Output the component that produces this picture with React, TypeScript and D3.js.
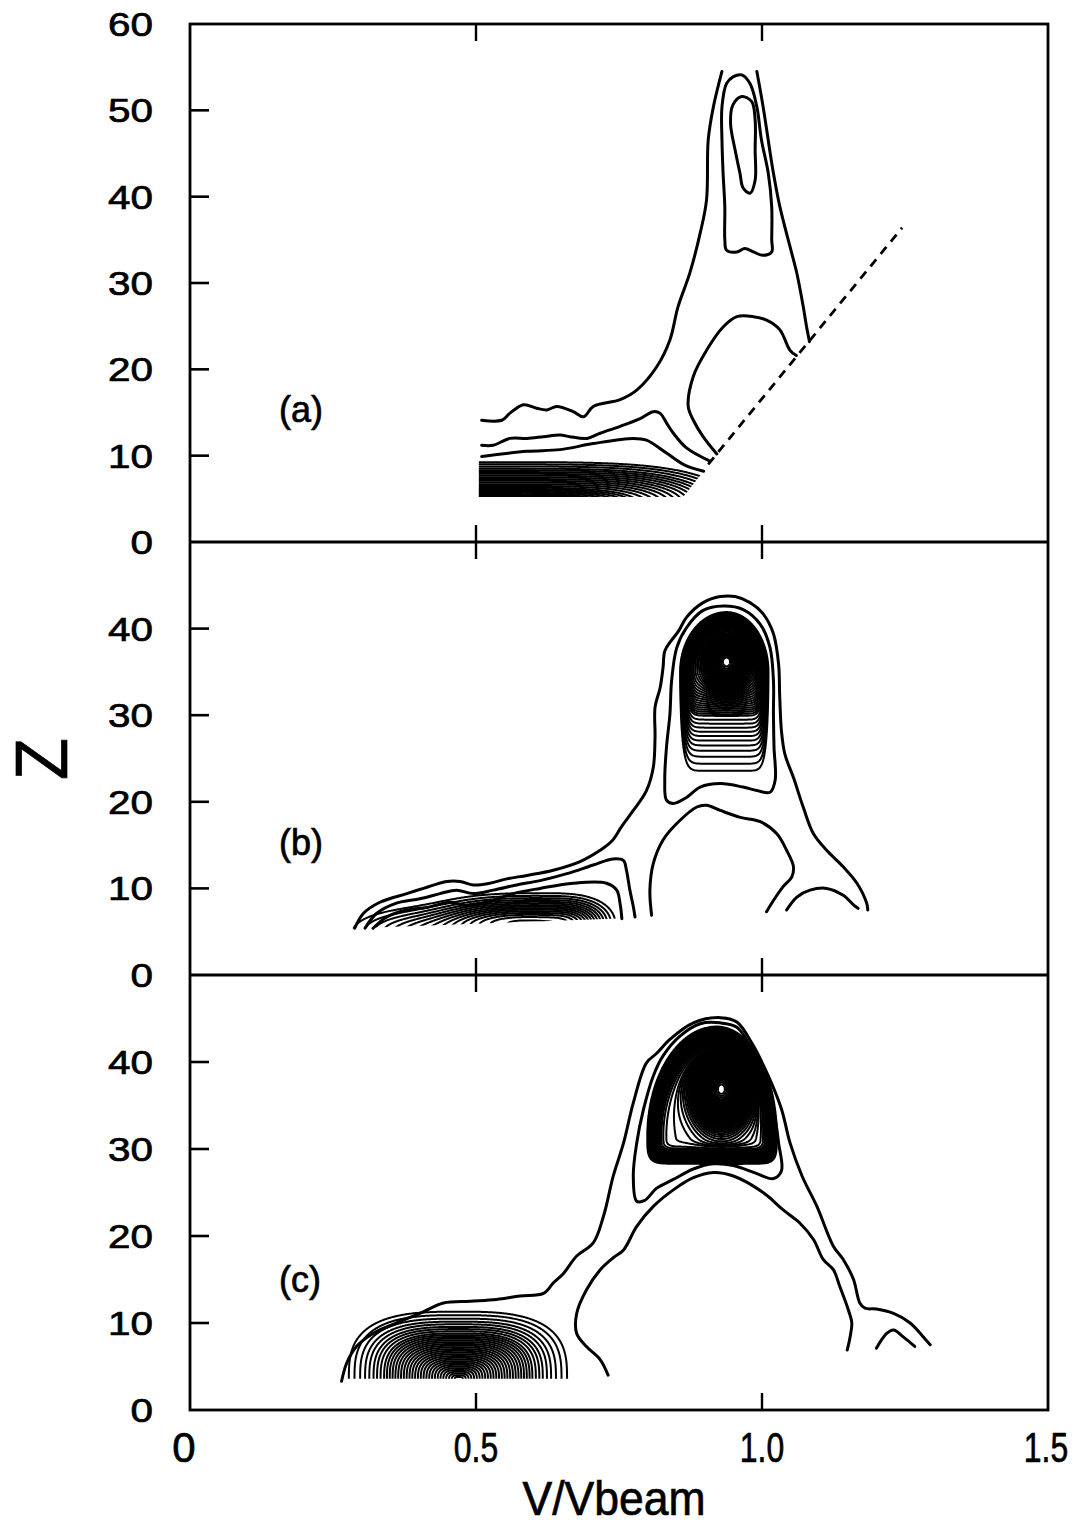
import React, { useMemo } from "react";
import * as d3 from "d3";

type Pt = [number, number];
type Blob = { kind: "sep" | "cap"; cx: number; cz: number; sxl: number; sxr: number; szd: number; szu: number; p: number; q: number; amp: number };

// ---------------- axes / text data ----------------
const xTickValues = [0, 0.5, 1.0, 1.5];
const xTickLabels = ["0", "0.5", "1.0", "1.5"];
const innerXTicks = [0.5, 1.0];
const zTicksA = [0, 10, 20, 30, 40, 50, 60];
const zTicksB = [0, 10, 20, 30, 40];
const zTicksC = [0, 10, 20, 30, 40];
const panelTags = ["(a)", "(b)", "(c)"];
const xTitle = "V/Vbeam";
const zTitle = "Z";

// ---------------- panel (a) ----------------
const aOuterLeft: Pt[] = [[0.510,14.1],[0.545,14.1],[0.559,14.9],[0.583,15.9],[0.606,15.5],[0.624,15.3],[0.641,15.7],[0.670,15.1],[0.688,14.5],[0.705,15.7],[0.752,16.5],[0.781,17.6],[0.816,20.3],[0.839,23.4],[0.853,27.2],[0.874,31.2],[0.892,35.8],[0.903,39.6],[0.906,46.6],[0.915,50.4],[0.930,54.5]];
const aOuterRight: Pt[] = [[0.991,54.5],[1.002,50.4],[1.020,42.7],[1.031,38.9],[1.049,34.2],[1.061,31.1],[1.072,27.3],[1.078,24.9],[1.083,23.2]];
const aColumn: Pt[] = [[0.9645,54.1],[0.979,53.1],[0.991,50.4],[0.999,46.6],[1.011,42.7],[1.017,38.8],[1.017,35.0],[1.017,33.6],[1.002,33.2],[0.985,33.6],[0.970,34.0],[0.956,33.6],[0.938,33.8],[0.935,35.0],[0.935,38.8],[0.932,42.7],[0.930,46.6],[0.930,50.4],[0.938,53.1],[0.950,53.9]];
const aOval: Pt[] = [[0.9645,51.6],[0.982,51.0],[0.988,48.9],[0.988,45.4],[0.988,41.9],[0.979,40.4],[0.967,41.0],[0.9615,42.7],[0.953,45.4],[0.945,48.5],[0.949,50.6]];
const aDome: Pt[] = [[1.060,21.6],[1.049,22.2],[1.031,24.6],[1.008,25.7],[0.985,26.1],[0.956,26.1],[0.932,24.9],[0.903,22.2],[0.880,19.2],[0.871,15.7],[0.880,14.1],[0.897,12.2],[0.921,10.2]];
const aLevel5: Pt[] = [[0.510,11.2],[0.530,11.2],[0.559,12.0],[0.589,12.0],[0.618,12.2],[0.647,12.4],[0.664,12.2],[0.694,12.0],[0.717,12.6],[0.752,13.4],[0.787,14.3],[0.810,15.1],[0.822,14.9],[0.833,13.8],[0.845,12.6],[0.868,10.9],[0.908,9.4]];
const aLevel6: Pt[] = [[0.510,9.9],[0.589,10.5],[0.647,10.7],[0.705,11.4],[0.775,12.0],[0.798,11.8],[0.833,10.3],[0.865,8.9],[0.898,8.2]];
const aDashed: Pt[] = [[0.906,9.0],[1.245,36.4]];
const aRegion: Pt[] = [[0.505,5.2],[0.862,5.2],[1.3,41.5],[1.3,60],[0.505,60]];
const aBandBlobs: Blob[] = [{ kind: "sep", cx: 0.52, cz: 4.5, sxl: 0.4, sxr: 0.317, szd: 3, szu: 2.6, p: 4, q: 2, amp: 1 }];
const aBandLevelZ = [9.25, 9.0, 8.75, 8.5, 8.3, 8.1, 7.9, 7.7, 7.5, 7.3, 7.1, 6.9, 6.7, 6.5, 6.3, 6.15, 6.0, 5.85, 5.7, 5.55, 5.42, 5.3];

// ---------------- panel (b) ----------------
const bOuter: Pt[] = [[0.288,5.4],[0.303,7.1],[0.332,8.4],[0.379,9.4],[0.408,10.0],[0.449,10.8],[0.472,10.8],[0.495,10.4],[0.524,10.6],[0.554,11.1],[0.589,11.5],[0.635,12.1],[0.682,13.1],[0.717,14.4],[0.738,15.5],[0.755,17.2],[0.775,19.0],[0.798,21.3],[0.810,24.0],[0.813,27.5],[0.813,30.9],[0.822,33.2],[0.827,35.5],[0.830,37.4],[0.839,38.4],[0.854,39.7],[0.868,41.3],[0.897,43.0],[0.927,43.7],[0.953,43.7],[0.979,43.0],[1.002,41.7],[1.020,39.4],[1.029,35.9],[1.031,32.1],[1.034,28.2],[1.040,25.5],[1.055,22.8],[1.072,19.4],[1.090,16.3],[1.113,14.4],[1.142,12.5],[1.166,10.6],[1.183,8.3],[1.185,7.5]];
const bLoop2: Pt[] = [[0.833,20.2],[0.830,22.5],[0.833,26.3],[0.839,30.1],[0.842,34.0],[0.851,37.8],[0.868,40.1],[0.897,42.1],[0.932,42.6],[0.967,42.2],[0.997,40.5],[1.014,37.8],[1.020,34.0],[1.020,30.1],[1.021,26.3],[1.023,22.5],[1.014,21.1],[0.991,21.3],[0.967,21.7],[0.927,22.1],[0.892,21.7],[0.868,20.5],[0.845,19.8]];
const bLobe2: Pt[] = [[0.306,5.4],[0.326,7.1],[0.361,8.3],[0.402,8.8],[0.437,9.4],[0.466,9.8],[0.495,9.4],[0.530,9.8],[0.571,10.4],[0.612,10.9],[0.659,11.7],[0.705,12.7],[0.740,13.4],[0.758,13.2],[0.763,12.1],[0.769,9.8],[0.775,7.9],[0.778,6.7]];
const bLobe3: Pt[] = [[0.320,5.4],[0.344,6.7],[0.379,7.5],[0.414,7.8],[0.455,8.4],[0.484,8.0],[0.519,8.4],[0.565,9.4],[0.612,10.0],[0.670,10.6],[0.728,10.6],[0.746,9.8],[0.752,8.2],[0.755,6.5]];
const bDome: Pt[] = [[0.807,6.9],[0.804,9.8],[0.810,12.9],[0.827,15.6],[0.851,17.5],[0.886,19.4],[0.903,19.6],[0.927,19.0],[0.962,18.2],[0.997,17.7],[1.026,16.3],[1.043,14.4],[1.055,12.5],[1.052,11.3],[1.037,10.2],[1.020,8.6],[1.008,7.3]];
const bArch: Pt[] = [[1.043,7.5],[1.061,9.0],[1.084,9.8],[1.113,10.0],[1.142,9.2],[1.160,8.1],[1.168,7.7]];
const bRegion: Pt[] = [[0.1,4.95],[1.3,7.85],[1.3,50],[0.1,50]];
const bLobeBlobs: Blob[] = [
  { kind: "sep", cx: 0.62, cz: 6.0, sxl: 0.13, sxr: 0.08, szd: 3, szu: 1.8, p: 3, q: 2, amp: 1 },
  { kind: "sep", cx: 0.40, cz: 5.0, sxl: 0.08, sxr: 0.08, szd: 1.5, szu: 1.8, p: 2, q: 2, amp: 0.45 },
];
const bLobeLevels = [0.16, 0.22, 0.28, 0.34, 0.40, 0.46, 0.52, 0.58, 0.64, 0.70, 0.76, 0.82, 0.88, 0.94, 1.0];
const bPeakBlobs: Blob[] = [
  { kind: "cap", cx: 0.938, cz: 35.0, sxl: 0.072, sxr: 0.065, szd: 5.6, szu: 6.13, p: 12, q: 2, amp: 0.6 },
  { kind: "sep", cx: 0.938, cz: 36.2, sxl: 0.022, sxr: 0.022, szd: 2.0, szu: 1.6, p: 2, q: 2, amp: 0.5 },
];
const bPeakLevels = [0.075,0.10,0.13,0.16,0.19,0.22,0.25,0.28,0.31,0.34,0.37,0.40,0.415,0.43,0.445,0.46,0.475,0.49,0.505,0.52,0.535,0.55,0.565,0.58,0.595,0.61,0.625,0.64,0.655,0.67,0.685,0.70,0.715,0.73,0.745,0.76,0.775,0.79,0.805,0.82,0.835,0.85,0.865,0.88,0.895,0.91,0.925,0.94,0.955,0.97,0.985,1.0,1.02,1.04,1.06,1.08];

// ---------------- panel (c) ----------------
const cOuter: Pt[] = [[0.265,3.3],[0.274,5.4],[0.291,7.3],[0.320,8.8],[0.361,10.0],[0.402,11.1],[0.443,12.3],[0.490,12.5],[0.536,12.7],[0.577,13.1],[0.618,13.4],[0.635,14.6],[0.653,15.7],[0.676,17.7],[0.705,19.2],[0.723,22.3],[0.740,26.9],[0.758,30.7],[0.775,35.3],[0.798,39.9],[0.816,41.0],[0.839,42.6],[0.880,44.5],[0.927,45.1],[0.956,44.6],[0.982,42.2],[1.011,38.4],[1.034,34.6],[1.049,30.7],[1.070,26.9],[1.096,23.4],[1.125,18.8],[1.142,17.3],[1.160,15.0],[1.171,12.3],[1.180,11.7],[1.200,11.6],[1.230,11.1],[1.259,10.0],[1.282,8.4],[1.294,7.5]];
const cDome: Pt[] = [[0.731,4.0],[0.717,5.8],[0.693,7.3],[0.676,8.8],[0.676,11.1],[0.693,13.8],[0.717,16.1],[0.740,17.5],[0.758,18.4],[0.781,21.1],[0.810,23.4],[0.845,25.3],[0.880,26.7],[0.915,27.3],[0.950,26.9],[1.002,25.0],[1.037,23.0],[1.066,21.5],[1.090,19.6],[1.107,17.3],[1.125,16.1],[1.136,14.2],[1.151,11.5],[1.157,10.0],[1.154,8.4],[1.149,6.9]];
const cLoop3: Pt[] = [[0.781,24.0],[0.775,26.9],[0.781,30.7],[0.793,34.6],[0.810,38.4],[0.827,40.7],[0.857,43.0],[0.892,44.4],[0.927,44.5],[0.956,44.0],[0.976,42.2],[1.002,38.4],[1.020,34.6],[1.029,30.7],[1.034,27.5],[1.020,26.6],[0.990,27.2],[0.950,28.1],[0.915,28.3],[0.880,27.7],[0.845,26.5],[0.816,25.5],[0.795,24.1]];
const cArch: Pt[] = [[1.200,7.1],[1.218,8.8],[1.230,9.2],[1.247,8.4],[1.267,7.3]];
const cRegion: Pt[] = [[0.0,3.6],[1.5,3.6],[1.5,50],[0.0,50]];
const cLobeBlobs: Blob[] = [{ kind: "sep", cx: 0.47, cz: 3.5, sxl: 0.124, sxr: 0.122, szd: 5, szu: 5.03, p: 3, q: 3, amp: 1 }];
const cLobeLevelZ = [11.3, 10.9, 10.5, 10.15, 9.85, 9.55, 9.3, 9.05, 8.8, 8.6, 8.4, 8.2, 8.0, 7.8, 7.6, 7.4, 7.2, 7.0, 6.8, 6.6, 6.4, 6.2, 6.0, 5.8, 5.6, 5.4, 5.2, 5.0, 4.8, 4.6, 4.4, 4.2, 4.0, 3.8];
const cPeakBlobs: Blob[] = [
  { kind: "cap", cx: 0.92, cz: 31.5, sxl: 0.107, sxr: 0.094, szd: 2.24, szu: 11.1, p: 12, q: 4, amp: 0.6 },
  { kind: "sep", cx: 0.929, cz: 36.9, sxl: 0.03, sxr: 0.03, szd: 2.8, szu: 2.6, p: 2, q: 2, amp: 0.5 },
];
const cPeakLevels = [0.075,0.10,0.125,0.15,0.175,0.2,0.225,0.25,0.275,0.3,0.325,0.35,0.375,0.4,0.425,0.45,0.475,0.5,0.525,0.55,0.575,0.6,0.612,0.624,0.636,0.648,0.66,0.672,0.684,0.696,0.708,0.72,0.732,0.744,0.756,0.768,0.78,0.792,0.804,0.816,0.828,0.84,0.852,0.864,0.876,0.888,0.9,0.912,0.924,0.936,0.948,0.96,0.972,0.984,0.996,1.008,1.02,1.032,1.044,1.056,1.068,1.08,1.09];

// ---------------- layout ----------------
const W = 1077, H = 1527;
const LEFT = 190, RIGHT = 1048;
const PANEL_TOP = [24, 542, 975];
const PANEL_BOTTOM = [542, 975, 1410];
const PANEL_ZMAX = [60, 50, 50];
const FONT = "'Liberation Sans', Arial, Helvetica, sans-serif";

function fieldAt(blobs: Blob[], x: number, z: number) {
  let s = 0;
  for (const b of blobs) {
    const dx = x - b.cx, dz = z - b.cz;
    const ux = Math.abs(dx) / (dx < 0 ? b.sxl : b.sxr);
    const uz = Math.abs(dz) / (dz < 0 ? b.szd : b.szu);
    let U: number;
    if (b.kind === "cap" && dz > 0) U = Math.pow(ux * ux + uz * uz, b.p / 2);
    else U = Math.pow(ux, b.p) + Math.pow(uz, b.q);
    s += b.amp * Math.exp(-0.5 * U);
  }
  return s;
}

function contourPaths(blobs: Blob[], levels: number[], win: [number, number, number, number], xs: any, zs: any): string[] {
  const [xa, xb, za, zb] = win;
  const step = 0.002, zstep = 0.05;
  const nx = Math.round((xb - xa) / step) + 1;
  const nz = Math.round((zb - za) / zstep) + 1;
  const vals: number[] = new Array(nx * nz);
  for (let j = 0; j < nz; j++) {
    const z = za + j * zstep;
    for (let i = 0; i < nx; i++) vals[j * nx + i] = fieldAt(blobs, xa + i * step, z);
  }
  const gen = d3.contours().size([nx, nz]).thresholds(levels);
  const proj = d3.geoTransform({
    point(px: number, py: number) {
      (this as any).stream.point(xs(xa + (px - 0.5) * step), zs(za + (py - 0.5) * zstep));
    },
  });
  const path = d3.geoPath(proj as any);
  return gen(vals).map((g) => path(g as any) || "");
}

export default function App() {
  const xs = d3.scaleLinear().domain([0, 1.5]).range([LEFT, RIGHT]);
  const zsA = d3.scaleLinear().domain([0, PANEL_ZMAX[0]]).range([PANEL_BOTTOM[0], PANEL_TOP[0]]);
  const zsB = d3.scaleLinear().domain([0, PANEL_ZMAX[1]]).range([PANEL_BOTTOM[1], PANEL_TOP[1]]);
  const zsC = d3.scaleLinear().domain([0, PANEL_ZMAX[2]]).range([PANEL_BOTTOM[2], PANEL_TOP[2]]);

  const fields = useMemo(() => {
    const aLevels = aBandLevelZ.map((z) => fieldAt(aBandBlobs, 0.52, z)).sort((a, b) => a - b);
    const cLobeLevels = cLobeLevelZ.map((z) => fieldAt(cLobeBlobs, 0.47, z)).sort((a, b) => a - b);
    return {
      a: contourPaths(aBandBlobs, aLevels, [0.3, 1.2, 0, 16], xs, zsA),
      bLobe: contourPaths(bLobeBlobs, bLobeLevels, [0.1, 1.0, 0, 16], xs, zsB),
      bPeak: contourPaths(bPeakBlobs, bPeakLevels, [0.7, 1.2, 15, 50], xs, zsB),
      cLobe: contourPaths(cLobeBlobs, cLobeLevels, [0.05, 0.95, 0, 22], xs, zsC),
      cPeak: contourPaths(cPeakBlobs, cPeakLevels, [0.7, 1.2, 18, 50], xs, zsC),
    };
  }, []);

  const open = (zs: any) => d3.line<Pt>().x((d) => xs(d[0])).y((d) => zs(d[1])).curve(d3.curveCatmullRom.alpha(0.5));
  const closed = (zs: any) => d3.line<Pt>().x((d) => xs(d[0])).y((d) => zs(d[1])).curve(d3.curveCatmullRomClosed.alpha(0.5));
  const poly = (pts: Pt[], zs: any) => pts.map((p) => `${xs(p[0])},${zs(p[1])}`).join(" ");

  const lineStyle = { fill: "none", stroke: "#000", strokeWidth: 3, strokeLinejoin: "round" as const, strokeLinecap: "round" as const };
  const fieldStyle = { fill: "none", stroke: "#000", strokeWidth: 2 };
  const textStroke = { stroke: "#000", strokeWidth: 0.7 };

  const zScales = [zsA, zsB, zsC];
  const zTicks = [zTicksA, zTicksB, zTicksC];
  const tagBaselines = [422, 855, 1292];

  return (
    <svg width={W} height={H} viewBox={`0 0 ${W} ${H}`} style={{ display: "block", position: "absolute", left: 0, top: 0, background: "#fff" }}>
      <defs>
        <clipPath id="clipA"><polygon points={poly(aRegion, zsA)} /></clipPath>
        <clipPath id="clipB"><polygon points={poly(bRegion, zsB)} /></clipPath>
        <clipPath id="clipC"><polygon points={poly(cRegion, zsC)} /></clipPath>
      </defs>
      <rect x={0} y={0} width={W} height={H} fill="#fff" />

      {/* field contours */}
      <g clipPath="url(#clipA)">{fields.a.map((d, i) => <path key={i} d={d} style={fieldStyle} />)}</g>
      <g clipPath="url(#clipB)">
        {fields.bLobe.map((d, i) => <path key={"l" + i} d={d} style={fieldStyle} />)}
        {fields.bPeak.map((d, i) => <path key={"p" + i} d={d} style={fieldStyle} />)}
      </g>
      <g clipPath="url(#clipC)">
        {fields.cLobe.map((d, i) => <path key={"l" + i} d={d} style={fieldStyle} />)}
        {fields.cPeak.map((d, i) => <path key={"p" + i} d={d} style={fieldStyle} />)}
      </g>

      {/* traced contours panel a */}
      <path d={open(zsA)(aOuterLeft) || ""} style={lineStyle} />
      <path d={open(zsA)(aOuterRight) || ""} style={lineStyle} />
      <path d={closed(zsA)(aColumn) || ""} style={lineStyle} />
      <path d={closed(zsA)(aOval) || ""} style={lineStyle} />
      <path d={open(zsA)(aDome) || ""} style={lineStyle} />
      <path d={open(zsA)(aLevel5) || ""} style={lineStyle} />
      <path d={open(zsA)(aLevel6) || ""} style={lineStyle} />
      <path d={d3.line<Pt>().x((d) => xs(d[0])).y((d) => zsA(d[1]))(aDashed) || ""} fill="none" stroke="#000" strokeWidth={2.8} strokeDasharray="9 7" />

      {/* traced contours panel b */}
      <path d={open(zsB)(bOuter) || ""} style={lineStyle} />
      <path d={closed(zsB)(bLoop2) || ""} style={lineStyle} />
      <path d={open(zsB)(bLobe2) || ""} style={lineStyle} />
      <path d={open(zsB)(bLobe3) || ""} style={lineStyle} />
      <path d={open(zsB)(bDome) || ""} style={lineStyle} />
      <path d={open(zsB)(bArch) || ""} style={lineStyle} />

      {/* traced contours panel c */}
      <path d={open(zsC)(cOuter) || ""} style={lineStyle} />
      <path d={open(zsC)(cDome) || ""} style={lineStyle} />
      <path d={closed(zsC)(cLoop3) || ""} style={lineStyle} />
      <path d={open(zsC)(cArch) || ""} style={lineStyle} />

      {/* frame */}
      <rect x={LEFT} y={PANEL_TOP[0]} width={RIGHT - LEFT} height={PANEL_BOTTOM[2] - PANEL_TOP[0]} fill="none" stroke="#000" strokeWidth={2.8} />
      <line x1={LEFT} x2={RIGHT} y1={PANEL_BOTTOM[0]} y2={PANEL_BOTTOM[0]} stroke="#000" strokeWidth={2.8} />
      <line x1={LEFT} x2={RIGHT} y1={PANEL_BOTTOM[1]} y2={PANEL_BOTTOM[1]} stroke="#000" strokeWidth={2.8} />

      {/* ticks and labels */}
      {zScales.map((zs, pi) => (
        <g key={pi}>
          {zTicks[pi].map((v) => {
            const y = zs(v);
            const inner = v !== 0 && v !== PANEL_ZMAX[pi];
            const label = String(v);
            return (
              <g key={v}>
                {inner && <line x1={LEFT} x2={LEFT + 19} y1={y} y2={y} stroke="#000" strokeWidth={2.6} />}
                <text x={153} y={y + 12} textAnchor="end" fontFamily={FONT} fontSize={34} textLength={label.length * 22.5} lengthAdjust="spacingAndGlyphs" style={textStroke}>{label}</text>
              </g>
            );
          })}
          {innerXTicks.map((v) => (
            <g key={v}>
              <line x1={xs(v)} x2={xs(v)} y1={PANEL_TOP[pi]} y2={PANEL_TOP[pi] + 17} stroke="#000" strokeWidth={2.4} />
              <line x1={xs(v)} x2={xs(v)} y1={PANEL_BOTTOM[pi]} y2={PANEL_BOTTOM[pi] - 17} stroke="#000" strokeWidth={2.4} />
            </g>
          ))}
          <text x={279} y={tagBaselines[pi]} fontFamily={FONT} fontSize={36} style={textStroke}>{panelTags[pi]}</text>
        </g>
      ))}

      {xTickValues.map((v, i) => {
        const cx = xs(v) + (i === 0 ? -6 : i === xTickValues.length - 1 ? -2 : 0);
        const sx = xTickLabels[i].length === 1 ? 1 : 0.76;
        return (
          <text key={v} transform={`translate(${cx},1462) scale(${sx},1)`} x={0} y={0} textAnchor="middle" fontFamily={FONT} fontSize={42} style={textStroke}>{xTickLabels[i]}</text>
        );
      })}
      <text x={614} y={1515} textAnchor="middle" fontFamily={FONT} fontSize={48} textLength={183} lengthAdjust="spacingAndGlyphs" style={textStroke}>{xTitle}</text>
      <text transform="translate(67,759) rotate(-90)" textAnchor="middle" fontFamily={FONT} fontSize={74} textLength={42} lengthAdjust="spacingAndGlyphs" style={textStroke}>{zTitle}</text>
    </svg>
  );
}
